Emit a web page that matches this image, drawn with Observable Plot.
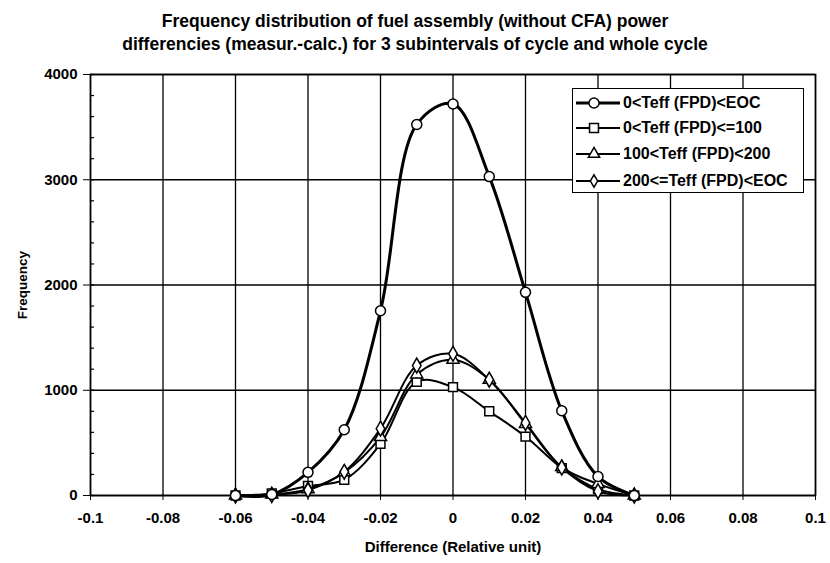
<!DOCTYPE html>
<html>
<head>
<meta charset="utf-8">
<script src="https://cdn.jsdelivr.net/npm/d3@7"></script>
<script src="https://cdn.jsdelivr.net/npm/@observablehq/plot@0.6"></script>
<style>
  body { margin: 0; background: #fff; }
  #wrap { position: relative; width: 830px; height: 563px; font-family: "Liberation Sans", Arial, sans-serif; color: #000; }
  #title { position: absolute; top: 10px; left: 0; width: 830px; text-align: center; font-size: 17.5px; font-weight: bold; line-height: 23px; }
  #chart { position: absolute; top: 60px; left: 0; }
  #legend { position: absolute; left: 572px; top: 88px; width: 232px; height: 105px; border: 1.5px solid #000; background: #fff; box-sizing: border-box; }
  .entry { position: absolute; left: 2px; height: 20px; display: flex; align-items: center; font-size: 16px; font-weight: bold; white-space: nowrap; }
  .entry svg { margin-right: 2px; }
</style>
</head>
<body>
<div id="wrap">
  <div id="title">Frequency distribution of fuel assembly (without CFA) power<br>differencies (measur.-calc.) for 3 subintervals of cycle and whole cycle</div>
  <div id="chart"></div>
  <div id="legend"></div>
</div>
<script>
// Data
const differences = [-0.06, -0.05, -0.04, -0.03, -0.02, -0.01, 0, 0.01, 0.02, 0.03, 0.04, 0.05];
const wholeCycle  = [0, 10, 220, 625, 1755, 3525, 3720, 3030, 1930, 805, 180, 0];
const teff0to100  = [0, 20, 90, 150, 490, 1080, 1030, 800, 560, 260, 60, 0];
const teff100to200 = [0, 10, 60, 220, 555, 1150, 1290, 1100, 680, 270, 110, 0];
const teff200toEOC = [0, 5, 50, 225, 635, 1235, 1346, 1100, 690, 265, 40, 0];

const seriesNames = ["0<Teff (FPD)<EOC", "0<Teff (FPD)<=100", "100<Teff (FPD)<200", "200<=Teff (FPD)<EOC"];
const seriesValues = [wholeCycle, teff0to100, teff100to200, teff200toEOC];
const seriesSymbols = ["circle", "square", "triangle", "diamond"];
const seriesWidths = [3, 2, 2, 2];

const xTicks = [-0.1, -0.08, -0.06, -0.04, -0.02, 0, 0.02, 0.04, 0.06, 0.08, 0.1];
const yTicks = [0, 1000, 2000, 3000, 4000];
const yMinorTicks = d3.range(0, 4001, 200);

const rows = [];
seriesNames.forEach((name, i) => {
  differences.forEach((d, j) => rows.push({series: name, x: d, y: seriesValues[i][j], idx: i}));
});

const marks = [
  Plot.gridX(xTicks, {stroke: "black", strokeOpacity: 1, strokeWidth: 1.3}),
  Plot.gridY(yTicks, {stroke: "black", strokeOpacity: 1, strokeWidth: 1.3}),
  Plot.frame({stroke: "black", strokeWidth: 1.6}),
  Plot.axisY(yMinorTicks, {tickSize: -4, tickFormat: () => "", label: null, strokeWidth: 1.2}),
  Plot.axisX(xTicks, {tickSize: 5, tickPadding: 12, tickFormat: d => String(d), fontSize: 15, fontWeight: "bold",
    label: "Difference (Relative unit)", labelAnchor: "center", labelArrow: "none", labelOffset: 56}),
  Plot.axisY(yTicks, {tickSize: 7, tickPadding: 6, tickFormat: d => String(d), fontSize: 15, fontWeight: "bold", label: null}),
  Plot.text(["Frequency"], {frameAnchor: "left", textAnchor: "middle", dx: -68, rotate: -90, fontSize: 13.5, fontWeight: "bold", fill: "black"})
];
[1, 2, 3, 0].forEach(i => {
  const data = rows.filter(r => r.idx === i);
  marks.push(Plot.line(data, {x: "x", y: "y", curve: "catmull-rom", stroke: "black", strokeWidth: seriesWidths[i]}));
});
[1, 2, 3, 0].forEach(i => {
  const data = rows.filter(r => r.idx === i);
  marks.push(Plot.dot(data, {x: "x", y: "y", symbol: () => seriesSymbols[i], r: i === 0 || i === 1 ? 5 : 4.5,
    fill: "white", stroke: "black", strokeWidth: 1.5}));
});

const chart = Plot.plot({
  width: 830,
  height: 503,
  marginLeft: 90,
  marginRight: 15,
  marginTop: 14,
  marginBottom: 68,
  style: {fontFamily: "Liberation Sans, Arial, sans-serif", color: "black", background: "white"},
  x: {domain: [-0.1, 0.1]},
  y: {domain: [0, 4000]},
  symbol: {type: "identity"},
  marks
});
document.getElementById("chart").append(chart);

// Legend
const legend = document.getElementById("legend");
const symPath = {
  circle: d3.symbol(d3.symbolCircle, 80)(),
  square: d3.symbol(d3.symbolSquare, 80)(),
  triangle: d3.symbol(d3.symbolTriangle, 55)(),
  diamond: d3.symbol(d3.symbolDiamond, 45)()
};
const entryTops = [4, 29, 55, 82];
seriesNames.forEach((name, i) => {
  const e = document.createElement("div");
  e.className = "entry";
  e.style.top = entryTops[i] + "px";
  e.innerHTML = `<svg width="46" height="20"><line x1="1" x2="45" y1="10" y2="10" stroke="black" stroke-width="${seriesWidths[i]}"/>` +
    `<path transform="translate(19,10)" d="${symPath[seriesSymbols[i]]}" fill="white" stroke="black" stroke-width="1.5"/></svg>`;
  const span = document.createElement("span");
  span.textContent = name;
  e.append(span);
  legend.append(e);
});
</script>
</body>
</html>
